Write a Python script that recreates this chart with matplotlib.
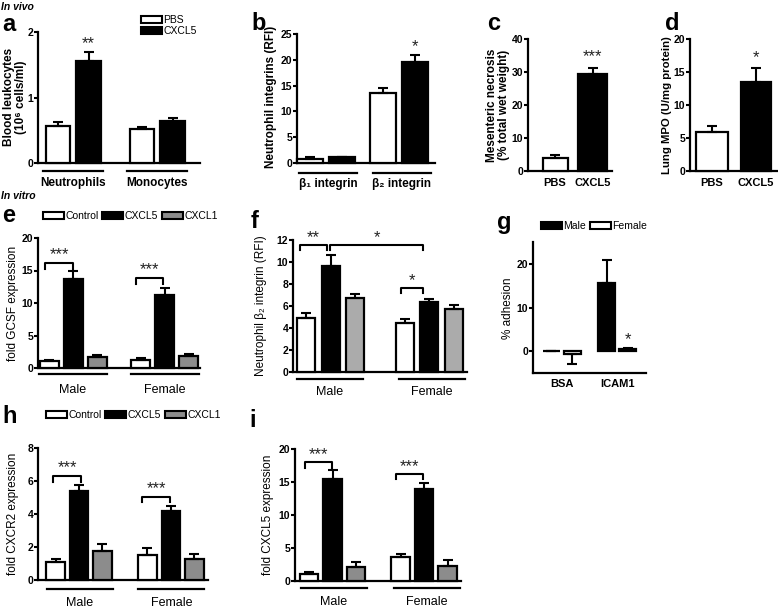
import matplotlib
matplotlib.use("Agg")
import matplotlib.pyplot as plt
from matplotlib.patches import Patch

plt.rcParams['font.family'] = ['Liberation Sans', 'DejaVu Sans']

# --- Data ---
# a: blood leukocytes (10^6 cells/ml)
A_GROUPS = ["Neutrophils", "Monocytes"]
A_PBS = [0.57, 0.52]
A_PBS_ERR = [0.05, 0.03]
A_CXCL5 = [1.55, 0.64]
A_CXCL5_ERR = [0.14, 0.05]

# b: neutrophil integrins (RFI)
B_GROUPS = ["β₁ integrin", "β₂ integrin"]
B_PBS = [0.8, 13.5]
B_PBS_ERR = [0.35, 1.0]
B_CXCL5 = [1.1, 19.6]
B_CXCL5_ERR = [0.1, 1.3]

# c: mesenteric necrosis, d: lung MPO
CD_LABELS = ["PBS", "CXCL5"]
C_VALS = [4.0, 29.3]
C_ERR = [0.8, 2.0]
D_VALS = [5.9, 13.5]
D_ERR = [0.9, 2.1]

SEXES = ["Male", "Female"]
TREATMENTS = ["Control", "CXCL5", "CXCL1"]

# e: fold GCSF expression [Male, Female]
E_CONTROL = [1.1, 1.3]
E_CONTROL_ERR = [0.15, 0.3]
E_CXCL5 = [13.7, 11.3]
E_CXCL5_ERR = [1.2, 1.0]
E_CXCL1 = [1.7, 1.9]
E_CXCL1_ERR = [0.3, 0.3]

# f: neutrophil beta2 integrin (RFI)
F_CONTROL = [4.9, 4.5]
F_CONTROL_ERR = [0.5, 0.3]
F_CXCL5 = [9.6, 6.35]
F_CXCL5_ERR = [1.0, 0.3]
F_CXCL1 = [6.7, 5.75]
F_CXCL1_ERR = [0.35, 0.35]

# g: % adhesion [BSA, ICAM1]
G_GROUPS = ["BSA", "ICAM1"]
G_MALE = [0.0, 15.6]
G_MALE_ERR = [0.0, 5.2]
G_FEMALE = [-0.6, 0.5]
G_FEMALE_ERR = [2.4, 0.3]

# h: fold CXCR2 expression
H_CONTROL = [1.07, 1.52]
H_CONTROL_ERR = [0.2, 0.4]
H_CXCL5 = [5.4, 4.2]
H_CXCL5_ERR = [0.33, 0.3]
H_CXCL1 = [1.78, 1.28]
H_CXCL1_ERR = [0.4, 0.3]

# i: fold CXCL5 expression
I_CONTROL = [1.1, 3.7]
I_CONTROL_ERR = [0.2, 0.4]
I_CXCL5 = [15.5, 13.9]
I_CXCL5_ERR = [1.3, 1.0]
I_CXCL1 = [2.1, 2.3]
I_CXCL1_ERR = [0.85, 0.85]

W, H = 778, 608
fig = plt.figure(figsize=(W / 100, H / 100), dpi=100)
GREY = '#8c8c8c'
LW = 1.6


def ftext(x, y, s, **kw):
    fig.text(x / W, 1 - y / H, s, **kw)


def make_axes(left, top, right, bottom, ylim, yticks):
    ax = fig.add_axes([left / W, 1 - bottom / H, (right - left) / W, (bottom - top) / H])
    ax.set_xlim(0, right - left)
    ax.set_ylim(*ylim)
    ax.set_yticks(yticks)
    ax.set_xticks([])
    for s in ['top', 'right']:
        ax.spines[s].set_visible(False)
    for s in ['left', 'bottom']:
        ax.spines[s].set_linewidth(LW)
    ax.tick_params(axis='y', direction='out', length=3, width=1.5, labelsize=7.5, pad=0.5)
    for lbl in ax.get_yticklabels():
        lbl.set_fontweight('bold')
    ax.patch.set_alpha(0)
    return ax


def bars(ax, xs, vals, errs, color, width):
    lower = [e if v < 0 else 0 for v, e in zip(vals, errs)]
    upper = [0 if v < 0 else e for v, e in zip(vals, errs)]
    ax.bar(xs, vals, width, color=color, edgecolor='black', linewidth=LW,
           yerr=[lower, upper], zorder=3, clip_on=False,
           error_kw=dict(ecolor='black', elinewidth=1.5, capsize=3.5, capthick=1.5))


def below(ax, px):
    return -px / ax.bbox.height


def group_lines(ax, centers, half, line_px, labels, label_px, **kw):
    tr = ax.get_xaxis_transform()
    for c, lab in zip(centers, labels):
        ax.plot([c - half, c + half], [below(ax, line_px)] * 2, color='black', lw=LW,
                transform=tr, clip_on=False)
        ax.text(c, below(ax, label_px), lab, transform=tr, ha='center', va='center', **kw)


def cat_labels(ax, xs, labels, label_px):
    tr = ax.get_xaxis_transform()
    for x, lab in zip(xs, labels):
        ax.text(x, below(ax, label_px), lab, transform=tr, ha='center', va='center',
                fontsize=8, fontweight='bold')


def stars(ax, x, y, s):
    ax.text(x, y, s, ha='center', va='center', fontsize=12, color='#222222')


def bracket(ax, x1, x2, y, leg, s, sy):
    ax.plot([x1, x1, x2, x2], [y - leg, y, y, y - leg], color='black', lw=1.5, clip_on=False)
    stars(ax, (x1 + x2) / 2, sy, s)


def three_groups(ax, centers, d, width, ctrl, ctrl_e, c5, c5_e, c1, c1_e, grey=GREY):
    bars(ax, [c - d for c in centers], ctrl, ctrl_e, 'white', width)
    bars(ax, centers, c5, c5_e, 'black', width)
    bars(ax, [c + d for c in centers], c1, c1_e, grey, width)


def legend(handles_colors, labels, x, y, ncol):
    handles = [Patch(facecolor=c, edgecolor='black', linewidth=1.5) for c in handles_colors]
    fig.legend(handles, labels, loc='upper left', bbox_to_anchor=(x / W, 1 - y / H),
               ncol=ncol, frameon=False, fontsize=7.5, handlelength=2.0, handleheight=0.6,
               handletextpad=0.15, columnspacing=0.35, labelspacing=0.1, borderpad=0,
               borderaxespad=0)


# --- headers and panel letters ---
ftext(1, 7, "In vivo", fontsize=7.5, fontweight='bold', style='italic', va='center')
ftext(1, 196, "In vitro", fontsize=7.5, fontweight='bold', style='italic', va='center')
for letter, x, y in [('a', 2, 31), ('b', 251, 30), ('c', 487, 30), ('d', 665, 30),
                     ('e', 2, 222), ('f', 251, 228), ('g', 497, 229), ('h', 2, 423),
                     ('i', 249, 427)]:
    ftext(x, y, letter, fontsize=17, fontweight='bold', va='baseline')

# --- a ---
ax = make_axes(38, 32, 200, 163, (0, 2), [0, 1, 2])
ca = [35, 119]
bars(ax, [c - 15.5 for c in ca], A_PBS, A_PBS_ERR, 'white', 24)
bars(ax, [c + 15.5 for c in ca], A_CXCL5, A_CXCL5_ERR, 'black', 25)
stars(ax, ca[0] + 15.5, 1.82, "**")
group_lines(ax, ca, 30, 8, A_GROUPS, 20, fontsize=8.5, fontweight='bold')
ftext(15, 97, "Blood leukocytes\n(10⁶ cells/ml)", rotation=90, ha='center', va='center',
      fontsize=8.5, fontweight='bold', linespacing=1.1)
legend(['white', 'black'], ["PBS", "CXCL5"], 141, 15, 1)

# --- b ---
ax = make_axes(297, 34, 435, 163, (0, 25), [0, 5, 10, 15, 20, 25])
cb = [29, 101.5]
bars(ax, [c - 16 for c in cb], B_PBS, B_PBS_ERR, 'white', 26)
bars(ax, [c + 16 for c in cb], B_CXCL5, B_CXCL5_ERR, 'black', 26)
stars(ax, cb[1] + 16, 22.6, "*")
group_lines(ax, [31, 105], 29, 10, B_GROUPS, 21, fontsize=8.5, fontweight='bold')
ftext(271, 97, "Neutrophil integrins (RFI)", rotation=90, ha='center', va='center',
      fontsize=8.5, fontweight='bold')

# --- c ---
ax = make_axes(528, 39, 612, 171, (0, 40), [0, 10, 20, 30, 40])
xc = [27, 64.5]
bars(ax, xc[:1], C_VALS[:1], C_ERR[:1], 'white', 25)
bars(ax, xc[1:], C_VALS[1:], C_ERR[1:], 'black', 29)
stars(ax, xc[1], 34.6, "***")
cat_labels(ax, xc, CD_LABELS, 12)
ftext(498, 105, "Mesenteric necrosis\n(% total wet weight)", rotation=90, ha='center',
      va='center', fontsize=8.5, fontweight='bold', linespacing=0.95)

# --- d ---
ax = make_axes(690, 39, 780, 171, (0, 20), [0, 5, 10, 15, 20])
xd = [22, 66]
bars(ax, xd[:1], D_VALS[:1], D_ERR[:1], 'white', 32)
bars(ax, xd[1:], D_VALS[1:], D_ERR[1:], 'black', 30)
stars(ax, xd[1], 17.2, "*")
cat_labels(ax, xd, CD_LABELS, 12)
ftext(667, 105, "Lung MPO (U/mg protein)", rotation=90, ha='center', va='center',
      fontsize=8.2, fontweight='bold')

# --- e ---
ax = make_axes(38, 238, 200, 368, (0, 20), [0, 5, 10, 15, 20])
ce = [35, 126.5]
three_groups(ax, ce, 24, 19, E_CONTROL, E_CONTROL_ERR, E_CXCL5, E_CXCL5_ERR,
             E_CXCL1, E_CXCL1_ERR)
bracket(ax, 7, 35, 16.2, 0.9, "***", 17.5)
bracket(ax, 98, 125, 13.9, 0.9, "***", 15.2)
group_lines(ax, ce, 34, 6, SEXES, 22, fontsize=9)
ftext(13, 303, "fold GCSF expression", rotation=90, ha='center', va='center', fontsize=8.5)
legend(['white', 'black', GREY], TREATMENTS, 43, 211, 3)

# --- f ---
ax = make_axes(293, 240, 467, 372, (0, 12), [0, 2, 4, 6, 8, 10, 12])
cf = [37.5, 136]
three_groups(ax, cf, 24.5, 18, F_CONTROL, F_CONTROL_ERR, F_CXCL5, F_CXCL5_ERR,
             F_CXCL1, F_CXCL1_ERR, grey='#ababab')
bracket(ax, 7, 34, 11.55, 0.45, "**", 12.25)
bracket(ax, 37, 130, 11.55, 0.45, "*", 12.25)
bracket(ax, 108, 130, 7.6, 0.45, "*", 8.3)
group_lines(ax, [37, 138.5], 33, 7, SEXES, 20, fontsize=9)
ftext(261, 306, "Neutrophil β₂ integrin (RFI)", rotation=90, ha='center', va='center',
      fontsize=8.5)

# --- g ---
ax = make_axes(533, 242, 646, 373, (-5, 25), [0, 10, 20])
cg = [28.5, 84]
bars(ax, [c - 10.5 for c in cg], G_MALE, G_MALE_ERR, 'black', 17)
bars(ax, [c + 10.5 for c in cg], G_FEMALE, G_FEMALE_ERR, 'white', 17)
stars(ax, cg[1] + 10.5, 2.7, "*")
cat_labels(ax, cg, G_GROUPS, 11)
ftext(508, 308, "% adhesion", rotation=90, ha='center', va='center', fontsize=8.5)
legend(['black', 'white'], ["Male", "Female"], 541, 221, 2)

# --- h ---
ax = make_axes(38, 448, 208, 580, (0, 8), [0, 2, 4, 6, 8])
ch = [41, 133]
three_groups(ax, ch, 23.5, 18.5, H_CONTROL, H_CONTROL_ERR, H_CXCL5, H_CXCL5_ERR,
             H_CXCL1, H_CXCL1_ERR)
bracket(ax, 15, 43, 6.3, 0.35, "***", 6.8)
bracket(ax, 104, 132, 5.05, 0.3, "***", 5.55)
group_lines(ax, [42, 133.5], 33, 9, SEXES, 23, fontsize=9)
ftext(13, 514, "fold CXCR2 expression", rotation=90, ha='center', va='center', fontsize=8.5)
legend(['white', 'black', GREY], TREATMENTS, 46, 410, 3)

# --- i ---
ax = make_axes(295, 449, 461, 581, (0, 20), [0, 5, 10, 15, 20])
ci = [37.5, 129]
three_groups(ax, ci, 23.5, 18.5, I_CONTROL, I_CONTROL_ERR, I_CXCL5, I_CXCL5_ERR,
             I_CXCL1, I_CXCL1_ERR)
bracket(ax, 10, 37, 18.0, 0.9, "***", 19.2)
bracket(ax, 101, 128, 16.2, 0.8, "***", 17.4)
group_lines(ax, [39, 131.5], 33, 7, SEXES, 21, fontsize=9)
ftext(268, 515, "fold CXCL5 expression", rotation=90, ha='center', va='center', fontsize=8.5)

fig.savefig("out.png", dpi=100)
